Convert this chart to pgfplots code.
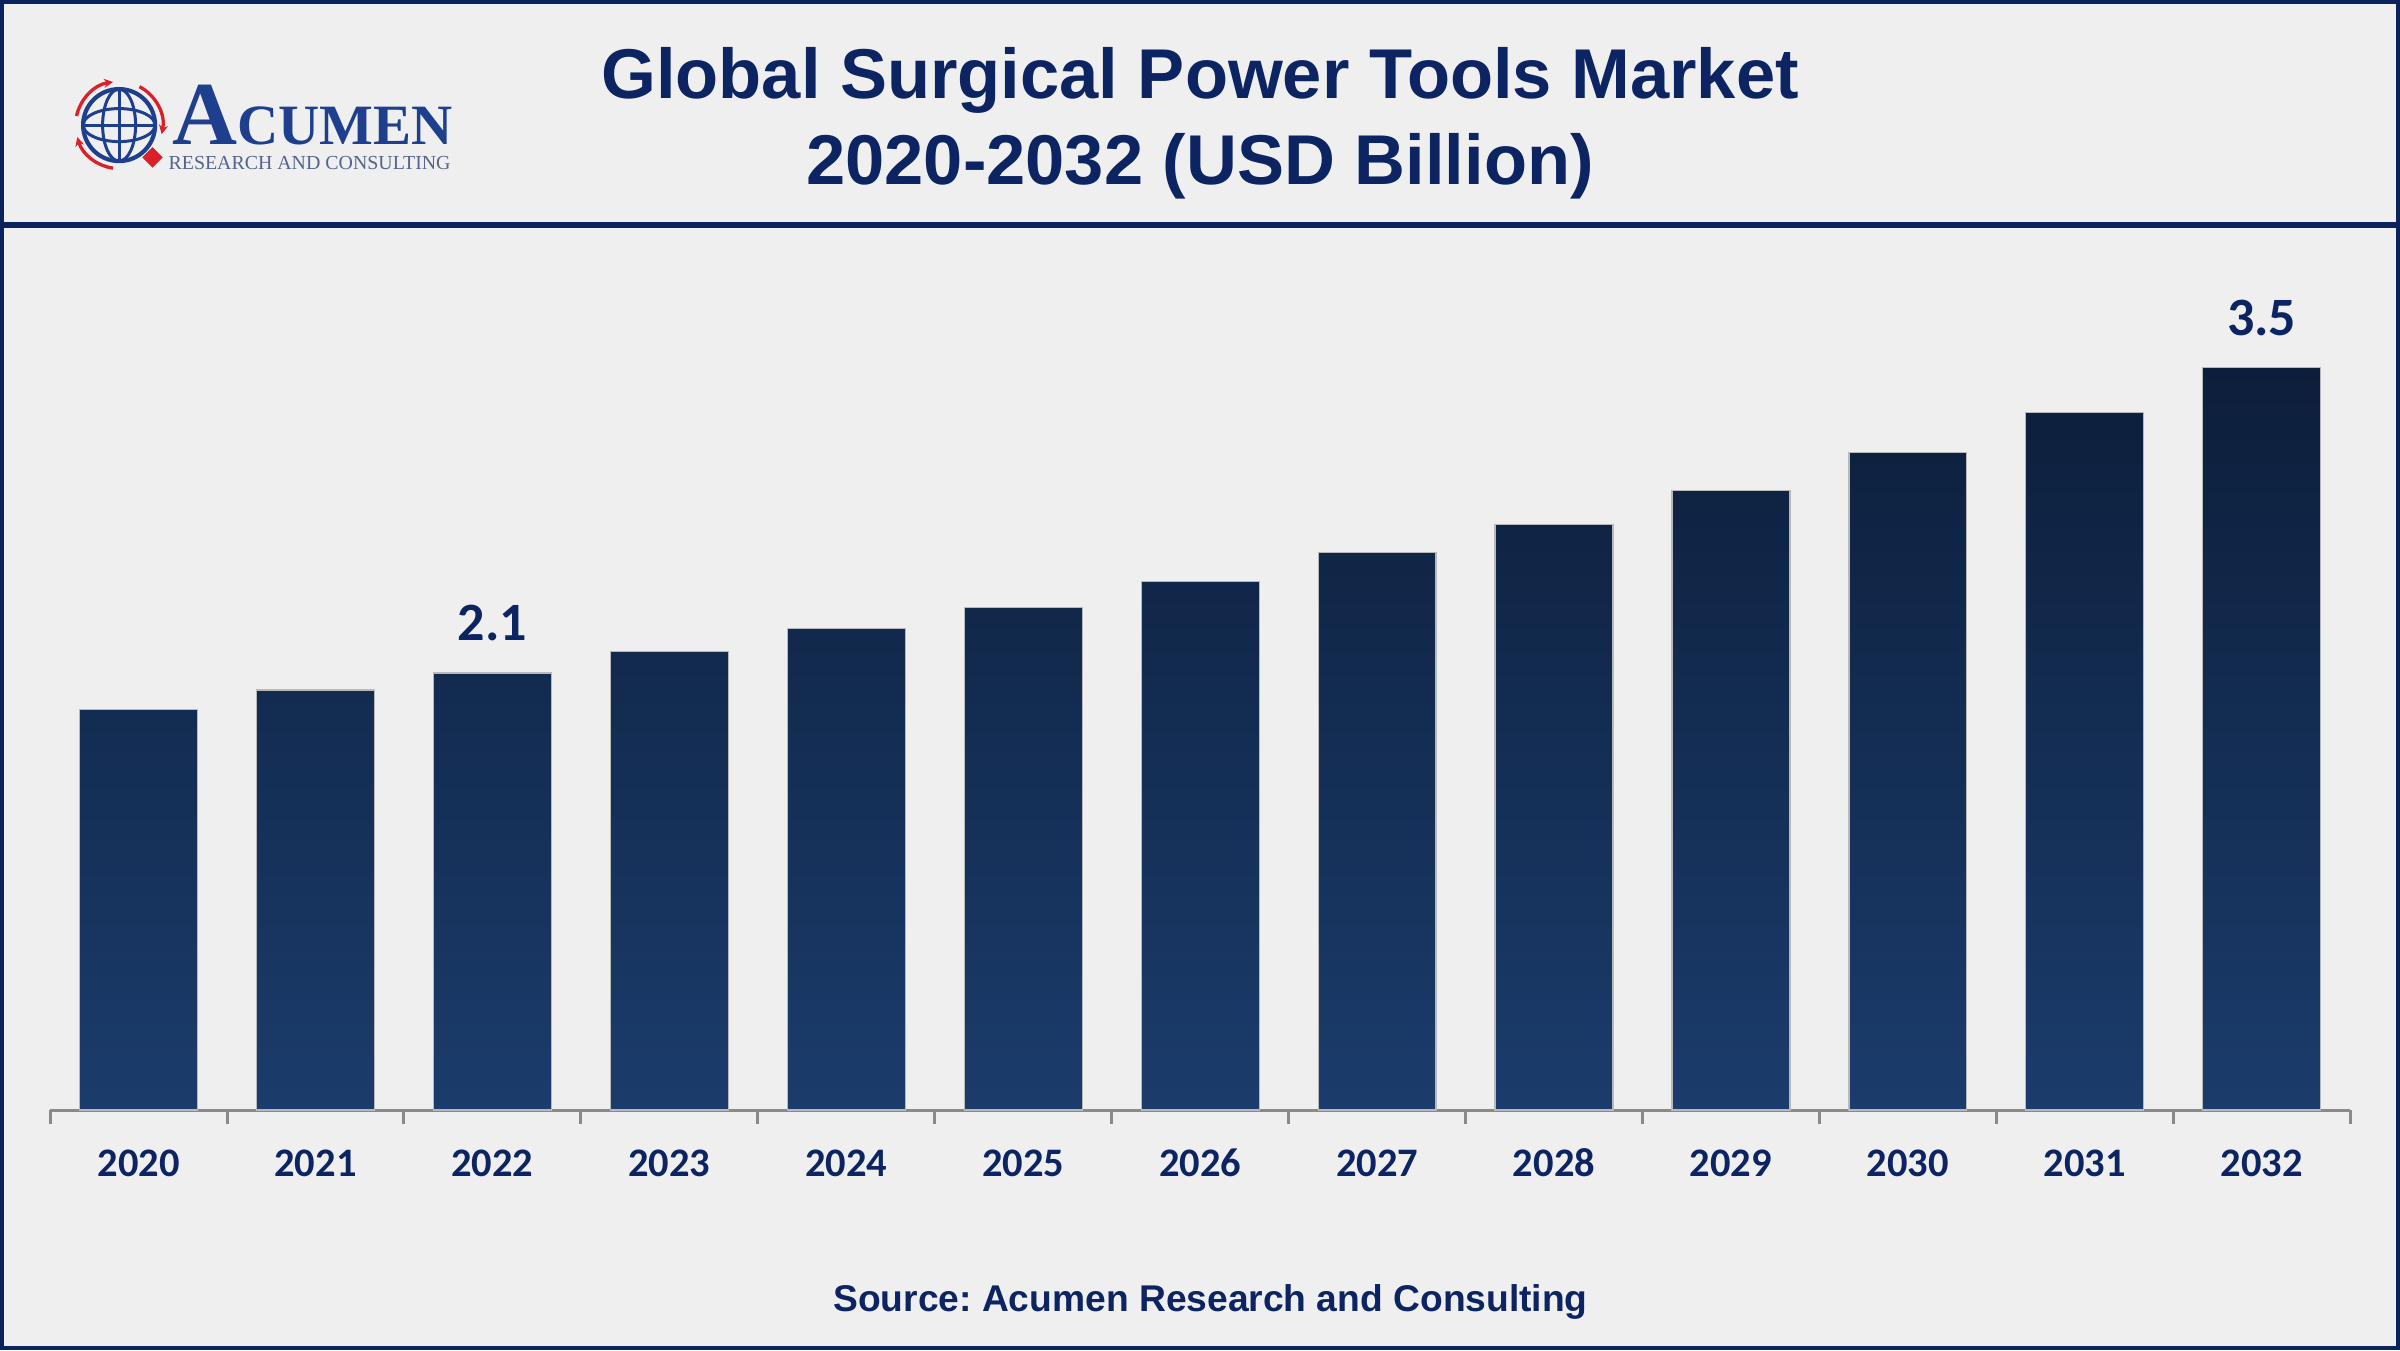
\documentclass[border=0pt]{standalone}
\usepackage{pgfplots}
\pgfplotsset{compat=1.18}
\usepackage{fontspec}
\usepackage{graphicx}
\usetikzlibrary{arrows.meta}
\setmainfont{Liberation Sans}
\newfontfamily\carlito{Carlito}
\newfontfamily\lserif{Liberation Serif}
\definecolor{bg}{RGB}{239,239,239}
\definecolor{navy}{RGB}{12,36,98}
\definecolor{frame}{RGB}{12,34,92}
\definecolor{bartop}{RGB}{12,30,58}
\definecolor{barbot}{RGB}{27,60,108}
\definecolor{tickgray}{RGB}{138,138,138}
\definecolor{logoblue}{RGB}{30,62,142}
\definecolor{logogray}{RGB}{85,100,140}
\definecolor{logored}{RGB}{218,32,40}
\frenchspacing
\begin{document}
\begin{tikzpicture}
\path[use as bounding box, fill=bg] (0,0) rectangle (800pt,450pt);
% title
\node[anchor=base, text=navy, inner sep=0, font=\fontsize{23.5}{28}\selectfont\bfseries] at (400pt,417.2pt) {Global Surgical Power Tools Market};
\node[anchor=base, text=navy, inner sep=0, font=\fontsize{23.5}{28}\selectfont\bfseries] at (400pt,388.6pt) {2020-2032 (USD Billion)};
% logo
\begin{scope}[shift={(39.7pt,408.3pt)}]
  \draw[logoblue, line width=1.4pt] (0,0) circle (12pt);
  \draw[logoblue, line width=1pt] (0,0) ellipse (5.5pt and 12pt);
  \draw[logoblue, line width=1pt] (0,0) ellipse (12pt and 5.5pt);
  \draw[logoblue, line width=1pt] (0,-12pt) -- (0,12pt);
  \draw[logoblue, line width=1pt] (-12pt,0) -- (12pt,0);
  \draw[logored, line width=1.1pt, -{Stealth[length=3pt,width=3pt]}] (168:14.5pt) arc[start angle=168, end angle=98, radius=14.5pt];
  \draw[logored, line width=1.1pt, -{Stealth[length=3pt,width=3pt]}] (62:14.5pt) arc[start angle=62, end angle=-12, radius=14.5pt];
  \draw[logored, line width=1.1pt, -{Stealth[length=3pt,width=3pt]}] (262:14.5pt) arc[start angle=262, end angle=196, radius=14.5pt];
  \fill[logored] (-44:15.5pt) +(0,3.4pt) -- +(3.4pt,0) -- +(0,-3.4pt) -- +(-3.4pt,0) -- cycle;
\end{scope}
\node[anchor=base west, inner sep=0, text=logoblue] at (57.3pt,401.7pt) {\lserif\bfseries\fontsize{30}{30}\selectfont A\fontsize{19}{19}\selectfont CUMEN};
\node[anchor=base west, inner sep=0, text=logogray] at (56pt,393.6pt) {\resizebox{94pt}{!}{\lserif\fontsize{6}{6}\selectfont RESEARCH AND CONSULTING}};
% chart
\begin{axis}[
  at={(16.7pt,80pt)}, anchor=south west, scale only axis,
  width=766.7pt, height=282.8pt,
  xmin=-0.5, xmax=12.5, ymin=0, ymax=4,
  axis y line=none, axis x line*=bottom,
  x axis line style={-, tickgray, line width=1pt},
  xtick={0,1,2,3,4,5,6,7,8,9,10,11,12},
  xticklabels={2020,2021,2022,2023,2024,2025,2026,2027,2028,2029,2030,2031,2032},
  major tick length=0pt,
  minor xtick={-0.5,0.5,1.5,2.5,3.5,4.5,5.5,6.5,7.5,8.5,9.5,10.5,11.5,12.5},
  minor tick length=4.7pt, tick align=outside,
  every minor tick/.style={tickgray, line width=1pt},
  xticklabel style={font=\carlito\bfseries\fontsize{13.5}{14}\selectfont, text=navy, anchor=base, yshift=-22.3pt, inner sep=0pt},
  clip=false,
]
\addplot[ybar, bar width=39.3pt, draw=gray!55, line width=0.4pt, top color=bartop, bottom color=barbot] coordinates {
  (0,1.89) (1,1.98) (2,2.06) (3,2.16) (4,2.27) (5,2.37) (6,2.49)
  (7,2.63) (8,2.76) (9,2.92) (10,3.10) (11,3.29) (12,3.50)
};
\node[anchor=base, text=navy, inner sep=0, font=\carlito\bfseries\fontsize{18}{18}\selectfont, yshift=10.8pt] at (axis cs:2,2.06) {2.1};
\node[anchor=base, text=navy, inner sep=0, font=\carlito\bfseries\fontsize{18}{18}\selectfont, yshift=10.8pt] at (axis cs:12,3.50) {3.5};
\end{axis}
% header rule and frame
\draw[frame, line width=2.2pt] (0,375pt) -- (800pt,375pt);
\node[anchor=base, text=navy, inner sep=0, font=\bfseries\fontsize{12.4}{14}\selectfont] at (403.5pt,12.7pt) {Source: Acumen Research and Consulting};
\draw[frame, line width=1.4pt] (0.7pt,0.7pt) rectangle (799.3pt,449.3pt);
\end{tikzpicture}
\end{document}
